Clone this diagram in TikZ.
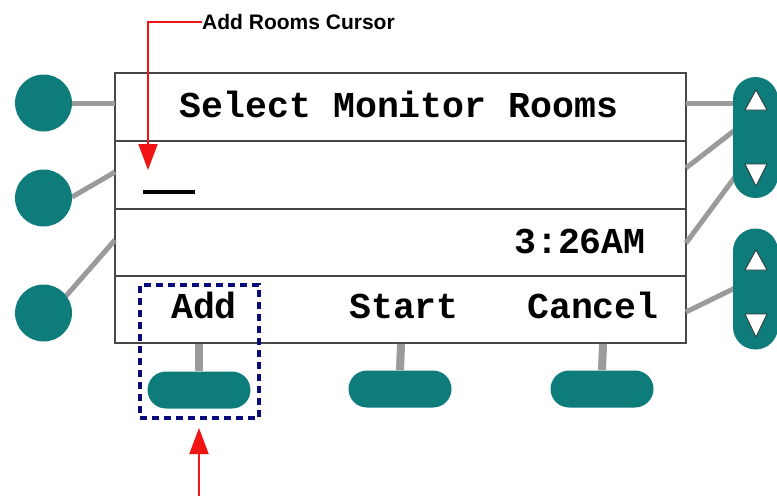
\documentclass[tikz,border=0pt]{standalone}
\usepackage{fontspec}
\setmainfont{Liberation Sans}
\setmonofont{Liberation Mono}
\usetikzlibrary{arrows.meta}
\definecolor{teal1}{RGB}{14,124,123}
\definecolor{connGray}{RGB}{155,155,155}
\definecolor{frameGray}{RGB}{70,70,70}
\definecolor{navy1}{RGB}{10,10,120}
\definecolor{red1}{RGB}{240,20,20}
\tikzset{
  conn/.style={draw=connGray, line width=5pt},
  stem/.style={draw=connGray, line width=8pt},
  circbtn/.style={circle, fill=teal1, minimum size=57pt, inner sep=0pt},
  vpill/.style={rectangle, rounded corners=22.5pt, fill=teal1, minimum width=45pt, minimum height=121pt, inner sep=0pt},
  hpill/.style={rectangle, rounded corners=18.5pt, fill=teal1, minimum width=103pt, minimum height=37pt, inner sep=0pt},
  scrtext/.style={font=\fontsize{36.5}{40}\selectfont\ttfamily\bfseries, inner sep=0pt, anchor=base},
  tri/.style={fill=white, draw=black!80, line width=0.8pt, line join=miter},
  redarrow/.style={draw=red1, line width=2pt, -{Triangle[length=26pt,width=19pt]}},
  rowline/.style={draw=frameGray, line width=2pt},
}
\begin{document}
\begin{tikzpicture}[x=1pt,y=-1pt]
\useasboundingbox (0,0) rectangle (777,496);
\clip (0,0) rectangle (777,496);
\fill[white] (0,0) rectangle (777,496);

% screen
\node[draw=frameGray, line width=2pt, fill=white, minimum width=571pt, minimum height=270pt, inner sep=0pt] (scr) at (400.5,208) {};
\draw[rowline] (115,141) -- (686,141);
\draw[rowline] (115,208.5) -- (686,208.5);
\draw[rowline] (115,276) -- (686,276);

% connector end points on screen and buttons
\coordinate (sl1) at (115,103);
\coordinate (sl2) at (115,172);
\coordinate (sl3) at (115,240);
\coordinate (sr1) at (686,103);
\coordinate (sr2) at (686,168);
\coordinate (sr3) at (686,243);
\coordinate (sr4) at (686,312);
\coordinate (pr1) at (735,103);
\coordinate (pr2) at (735,130);
\coordinate (pr3) at (735,177);
\coordinate (pr4) at (735,288);
\coordinate (sb1) at (199,344);
\coordinate (sb2) at (401,344);
\coordinate (sb3) at (603,344);

% left round buttons
\coordinate (L1c) at (43.5,103);
\coordinate (L2c) at (43.5,198);
\coordinate (L3c) at (43.5,313);
\draw[conn] (L1c) -- (sl1);
\draw[conn] (72,197) -- (sl2);
\draw[conn] (66,296) -- (sl3);
\node[circbtn] (L1) at (L1c) {};
\node[circbtn] (L2) at (L2c) {};
\node[circbtn] (L3) at (L3c) {};

% right connectors and pills
\draw[conn] (sr1) -- (pr1);
\draw[conn] (sr2) -- (pr2);
\draw[conn] (sr3) -- (pr3);
\draw[conn] (sr4) -- (pr4);
\node[vpill] (R1) at (755.5,137.5) {};
\node[vpill] (R2) at (755.5,289) {};
\draw[tri] (756,90) -- (767,110) -- (745,110) -- cycle;
\draw[tri] (745,164) -- (767,164) -- (756,186) -- cycle;
\draw[tri] (756,250) -- (767,270) -- (745,270) -- cycle;
\draw[tri] (745,314) -- (767,314) -- (756,337) -- cycle;

% bottom buttons
\node[hpill] (B1) at (199,390) {};
\node[hpill] (B2) at (400,389) {};
\node[hpill] (B3) at (602,389) {};
\draw[stem] (sb1) -- (B1.north);
\draw[stem] (sb2) -- (B2.north);
\draw[stem] (sb3) -- (B3.north);

% screen texts
\node[scrtext] (t1) at (399,117) {Select Monitor Rooms};
\node[scrtext] (t2) at (580,253) {3:26AM};
\node[scrtext] (t3) at (204,318) {Add};
\node[scrtext] (t4) at (404,318) {Start};
\node[scrtext] (t5) at (593,318) {Cancel};

% cursor
\draw[black, line width=4pt] (143,192) -- (195,192);

% dashed highlight
\node[draw=navy1, line width=3.8pt, dash pattern=on 7pt off 5pt, minimum width=119pt, minimum height=133pt, inner sep=0pt] (hl) at (199.5,351.5) {};

% annotation
\node[anchor=west, inner sep=0pt, font=\fontsize{21}{24}\selectfont\bfseries] (lab) at (202,22) {Add Rooms Cursor};
\coordinate (cur) at (148,170);
\draw[redarrow] (lab.west) -- (148,22) -- (cur);
\coordinate (bot) at (199,496);
\coordinate (hlb) at (199,428);
\draw[redarrow] (bot) -- (hlb);
\end{tikzpicture}
\end{document}
